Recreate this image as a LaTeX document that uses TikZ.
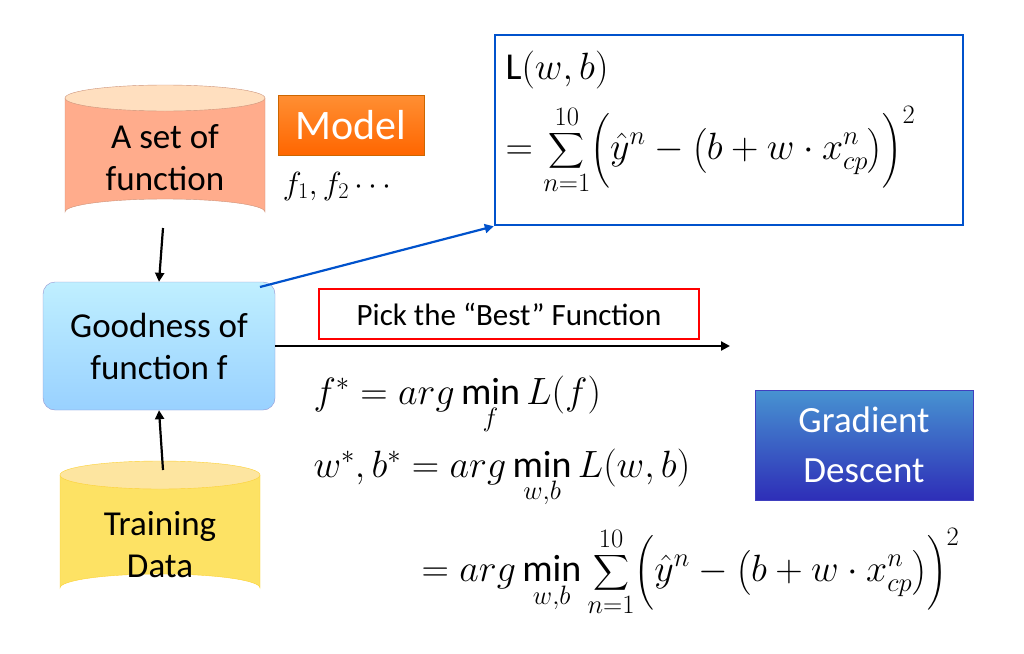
\RequirePackage{fix-cm}
\documentclass[tikz,border=0pt]{standalone}
\usepackage{fontspec}
\usepackage{amsmath}
\setmainfont{Carlito}
\usetikzlibrary{arrows.meta}
\begin{document}
\begin{tikzpicture}[x=1pt,y=-1pt,
  lbl/.style={font=\fontsize{35}{42}\selectfont,align=center},
  arr/.style={line width=2.2pt,-{Triangle[length=9pt,width=9pt]}},
  eq/.style={font=\fontsize{38}{44}\selectfont,anchor=west}]
\useasboundingbox (0,0) rectangle (1024,653);
% top cylinder
\fill[orange!55!red!45!white] (65,98) -- (65,212) arc[start angle=180,end angle=360,x radius=100,y radius=13] -- (265,98) -- cycle;
\draw[orange!60!red!40!white!80!black] (65,98) -- (65,212) arc[start angle=180,end angle=360,x radius=100,y radius=13] -- (265,98);
\draw[orange!60!red!40!white!80!black,fill=orange!25!white] (165,98) ellipse[x radius=100,y radius=13];
\node[lbl] at (165,158) {A set of\\function};
\coordinate (setb) at (163,228);
\node[draw=orange!80!black,top color=orange!90!red!80,bottom color=orange!80!red,minimum width=146pt,minimum height=60pt,text=white,font=\fontsize{42}{50}\selectfont] (model) at (351,125) {Model};
\node[font=\fontsize{32}{36}\selectfont] (fs) at (340,186) {$f_1,f_2\cdots$};
% goodness box
\node[draw=blue!40!gray!60,rounded corners=12pt,top color=blue!25!cyan!25!white,bottom color=blue!45!cyan!40!white,minimum width=232pt,minimum height=128pt,lbl] (good) at (159,346) {Goodness of\\function f};
% bottom cylinder
\fill[yellow!70!orange!60!white] (60,475) -- (60,588) arc[start angle=180,end angle=360,x radius=100,y radius=14] -- (260,475) -- cycle;
\draw[yellow!60!orange!80] (60,475) -- (60,588) arc[start angle=180,end angle=360,x radius=100,y radius=14] -- (260,475);
\draw[yellow!60!orange!80,fill=yellow!50!orange!35!white] (160,475) ellipse[x radius=100,y radius=14];
\node[lbl] at (160,545) {Training\\Data};
\coordinate (datat) at (163,470);
\draw[arr] (setb) -- (good.north);
\draw[arr] (datat) -- (good.south);
% loss box
\node[draw=blue!60!cyan!80!black,line width=2.5pt,minimum width=468pt,minimum height=190pt] (loss) at (729,130) {};
\node[eq] at (502,70) {$\mathrm{L}(w,b)$};
\node[eq] at (502,150) {$\displaystyle =\sum_{n=1}^{10}\Bigl(\hat{y}^n-\bigl(b+w\cdot x_{cp}^n\bigr)\Bigr)^2$};
\coordinate (gs) at (260,287);
\draw[line width=2.2pt,blue!60!cyan!80!black,-{Triangle[length=9pt,width=9pt]}] (gs) -- (loss.south west);
% pick
\node[draw=red,line width=2.2pt,minimum width=380pt,minimum height=50pt,font=\fontsize{31}{36}\selectfont] (pick) at (509,314) {Pick the “Best” Function};
\coordinate (aend) at (730,346);
\draw[arr] (good.east |- aend) -- (aend);
% gradient descent
\node[draw=blue!50!gray,top color=blue!45!cyan!60!gray!90,bottom color=blue!60!gray!90!black,minimum width=218pt,minimum height=110pt,text=white,font=\fontsize{37}{50}\selectfont,align=center] (gd) at (864,445) {Gradient\\Descent};
% equations
\node[eq] at (310,405) {$f^*=arg\min\limits_{f}L(f)$};
\node[eq] at (310,478) {$w^*,b^*=arg\min\limits_{w,b}L(w,b)$};
\node[eq] at (418,572) {$\displaystyle =arg\min_{w,b}\sum_{n=1}^{10}\Bigl(\hat{y}^n-\bigl(b+w\cdot x_{cp}^n\bigr)\Bigr)^2$};
\end{tikzpicture}
\end{document}
